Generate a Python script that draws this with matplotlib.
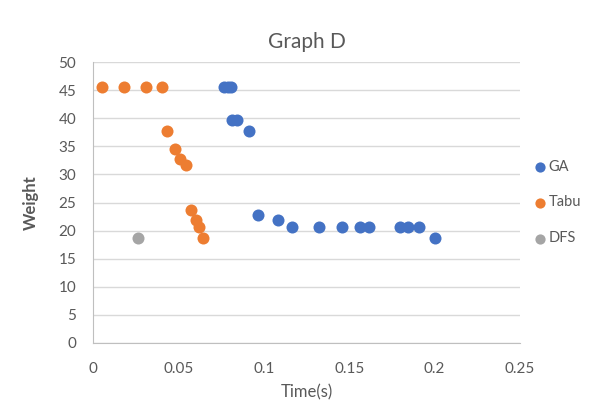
import matplotlib
matplotlib.use("Agg")
import matplotlib.pyplot as plt

plt.rcParams['font.family'] = ['Lato', 'DejaVu Sans']

ga_x = [0.0767, 0.079, 0.0808, 0.0812, 0.0843, 0.0915, 0.0964, 0.1083, 0.1167,
        0.1323, 0.1456, 0.1563, 0.1616, 0.1799, 0.1846, 0.1909, 0.2001]
ga_y = [45.6, 45.6, 45.6, 39.6, 39.6, 37.7, 22.7, 21.8, 20.6,
        20.6, 20.6, 20.6, 20.6, 20.6, 20.6, 20.6, 18.7]

tabu_x = [0.0053, 0.0183, 0.031, 0.0402, 0.0433, 0.0482, 0.0511, 0.0544,
          0.0572, 0.0601, 0.0622, 0.0644]
tabu_y = [45.6, 45.6, 45.6, 45.6, 37.7, 34.6, 32.7, 31.6,
          23.6, 21.8, 20.6, 18.7]

dfs_x = [0.0263]
dfs_y = [18.7]

xticks = [0, 0.05, 0.1, 0.15, 0.2, 0.25]
xtick_labels = ['0', '0.05', '0.1', '0.15', '0.2', '0.25']
yticks = list(range(0, 51, 5))

fig = plt.figure(figsize=(5.89, 4.08), dpi=100)
ax = fig.add_axes([93/589, 1-343/408, (520-93)/589, (343-62)/408])

ms = 75
ax.scatter(ga_x, ga_y, s=ms, color='#4472C4', label='GA', zorder=3, linewidths=0)
ax.scatter(tabu_x, tabu_y, s=ms, color='#ED7D31', label='Tabu', zorder=3, linewidths=0)
ax.scatter(dfs_x, dfs_y, s=ms, color='#A5A5A5', label='DFS', zorder=3, linewidths=0)

ax.set_xlim(0, 0.25)
ax.set_ylim(0, 50)
ax.set_xticks(xticks)
ax.set_xticklabels(xtick_labels)
ax.set_yticks(yticks)
ax.grid(axis='y', color='#D9D9D9', linewidth=1)
ax.set_axisbelow(True)
for s in ['top', 'right']:
    ax.spines[s].set_visible(False)
for s in ['left', 'bottom']:
    ax.spines[s].set_color('#BFBFBF')
ax.tick_params(length=0, labelsize=11, colors='#595959')
ax.tick_params(axis='x', pad=14)
ax.tick_params(axis='y', pad=12)

ax.set_title('Graph D', fontsize=15, color='#595959', pad=10)
ax.set_xlabel('Time(s)', fontsize=12, color='#595959', labelpad=6)
ax.set_ylabel('Weight', fontsize=12, color='#595959', fontweight='bold', labelpad=14)

leg = ax.legend(loc='center left', bbox_to_anchor=(1.012, 0.50), frameon=False,
                fontsize=10.5, handletextpad=0.1, labelspacing=1.5,
                markerscale=0.85, handlelength=0.9, borderaxespad=0.2)
for t in leg.get_texts():
    t.set_color('#595959')

fig.savefig('out.png', dpi=100)
